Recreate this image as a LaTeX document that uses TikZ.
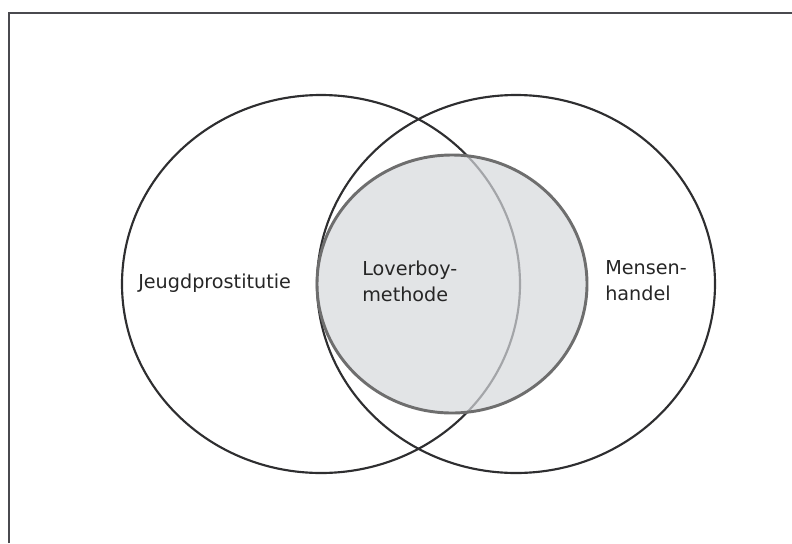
\documentclass[tikz,border=0pt]{standalone}
\usepackage{fontspec}
\setmainfont{DejaVu Sans}
\usepackage{tikz}
\usetikzlibrary{positioning}

\definecolor{ringgray}{HTML}{2E2E30}
\definecolor{framegray}{HTML}{4A4A4F}
\definecolor{lovergray}{HTML}{D6D8DC}
\definecolor{loveredge}{HTML}{6E6E6E}

\begin{document}
\begin{tikzpicture}[
                x = 0.75pt,
                y = -0.75pt,
                ring/.style = {
                    draw = ringgray,
                    line width = 1.6pt
                },
                label/.style = {
                    font = \fontsize{14.4}{19.5}\selectfont,
                    align = left,
                    inner sep = 0pt,
                    text = black!85
                }
            ]

            \useasboundingbox (0,0) rectangle (792,543);

            % kader (alleen boven en links zichtbaar)
            \draw[framegray, line width = 1.6pt] (9,543) -- (9,13) -- (792,13);

            % de twee grote cirkels
            \draw[ring] (321,284) ellipse [x radius = 199, y radius = 189];
            \draw[ring] (516,284) ellipse [x radius = 199, y radius = 189];

            % overlap: loverboy-methode
            \draw[fill = lovergray, fill opacity = 0.7, draw = loveredge, line width = 2.2pt]
                            (452,284) ellipse [x radius = 135, y radius = 129];

            \node[label, anchor = west] (jeugd) at (138,283) {Jeugdprostitutie};
            \node[label, anchor = west] (lover) at (362,281) {Loverboy-\\methode};
            \node[label, anchor = west] (mensen) at (605,281) {Mensen-\\handel};

         \end{tikzpicture}
\end{document}
